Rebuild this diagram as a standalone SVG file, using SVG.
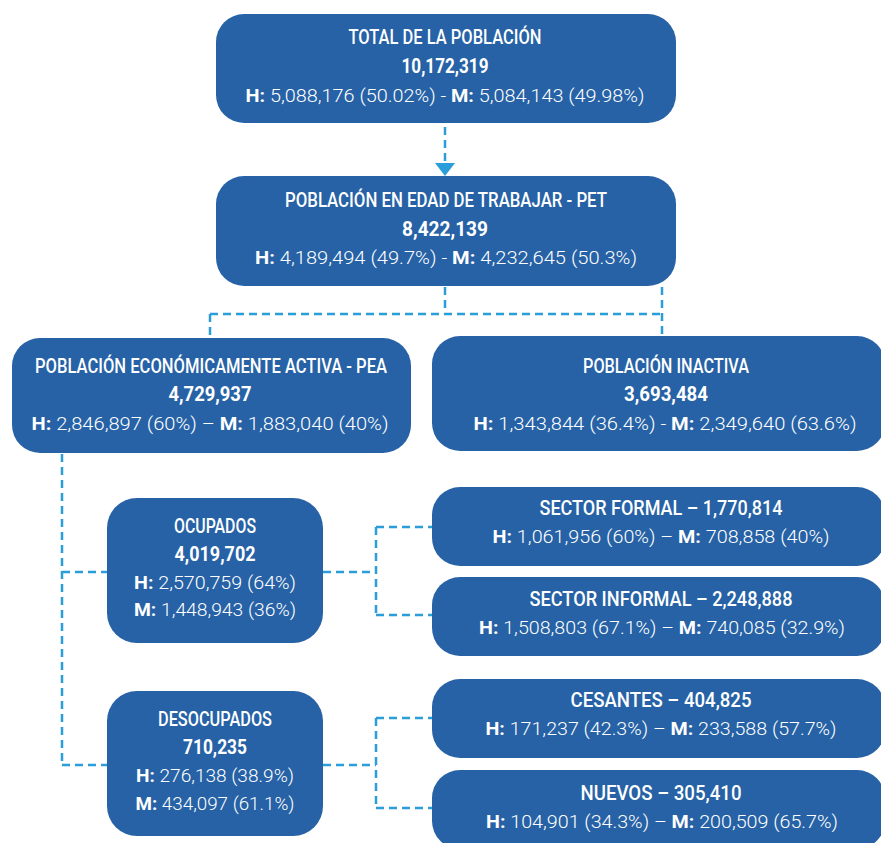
<svg xmlns="http://www.w3.org/2000/svg" width="881" height="843" viewBox="0 0 881 843">
<style>
.box{fill:#2662a5}
.t{font-family:Roboto,"Liberation Sans",sans-serif;fill:#ffffff;text-anchor:middle}
.ti{font-size:20px;font-weight:500}
.nu{font-size:20px;font-weight:700}
.de{font-size:19px;font-weight:300}
.b{font-weight:700}
.c{fill:none;stroke:#2b9dd8;stroke-width:2.5;stroke-dasharray:8 5}
</style>
<rect width="881" height="843" fill="#ffffff"/>
<g id="connectors">
<path class="c" d="M445 127 V164"/>
<polygon points="435,163 455,163 445,176" fill="#2b9dd8"/>
<path class="c" d="M445 287 V314 M210 314 H662 M210 314 V338 M662 287 V336"/>
<path class="c" d="M62 454 V765 M62 572 H108 M62 765 H108"/>
<path class="c" d="M323 572 H376 M376 527 V615 M376 527 H432 M376 615 H432"/>
<path class="c" d="M323 765 H376 M376 718 V808 M376 718 H432 M376 808 H432"/>
</g>
<g id="total">
<rect class="box" x="216" y="14" width="460" height="109" rx="28"/>
<text class="t ti" x="445" y="44" textLength="193" lengthAdjust="spacingAndGlyphs">TOTAL DE LA POBLACIÓN</text>
<text class="t nu" x="445" y="73" textLength="87" lengthAdjust="spacingAndGlyphs">10,172,319</text>
<text class="t de" x="445" y="102" textLength="399" lengthAdjust="spacingAndGlyphs"><tspan class="b">H:</tspan> 5,088,176  (50.02%)  -  <tspan class="b">M:</tspan> 5,084,143  (49.98%)</text>
</g>
<g id="pet">
<rect class="box" x="216" y="176" width="460" height="110" rx="28"/>
<text class="t ti" x="446" y="207" textLength="322" lengthAdjust="spacingAndGlyphs">POBLACIÓN EN EDAD DE TRABAJAR - PET</text>
<text class="t nu" x="445" y="236" textLength="86" lengthAdjust="spacingAndGlyphs">8,422,139</text>
<text class="t de" x="446" y="264" textLength="382" lengthAdjust="spacingAndGlyphs"><tspan class="b">H:</tspan> 4,189,494  (49.7%)  -  <tspan class="b">M:</tspan> 4,232,645  (50.3%)</text>
</g>
<g id="pea">
<rect class="box" x="12" y="338" width="399" height="115" rx="28"/>
<text class="t ti" x="211" y="373" textLength="352" lengthAdjust="spacingAndGlyphs">POBLACIÓN ECONÓMICAMENTE ACTIVA - PEA</text>
<text class="t nu" x="210" y="401" textLength="83" lengthAdjust="spacingAndGlyphs">4,729,937</text>
<text class="t de" x="210" y="430" textLength="357" lengthAdjust="spacingAndGlyphs"><tspan class="b">H:</tspan> 2,846,897  (60%)  –  <tspan class="b">M:</tspan> 1,883,040  (40%)</text>
</g>
<g id="inactiva">
<rect class="box" x="432" y="336" width="453" height="115" rx="28"/>
<text class="t ti" x="666" y="373" textLength="166" lengthAdjust="spacingAndGlyphs">POBLACIÓN INACTIVA</text>
<text class="t nu" x="666" y="401" textLength="84" lengthAdjust="spacingAndGlyphs">3,693,484</text>
<text class="t de" x="665" y="430" textLength="383" lengthAdjust="spacingAndGlyphs"><tspan class="b">H:</tspan> 1,343,844  (36.4%)  -  <tspan class="b">M:</tspan> 2,349,640  (63.6%)</text>
</g>
<g id="ocupados">
<rect class="box" x="107" y="498" width="216" height="145" rx="30"/>
<text class="t ti" x="215" y="533" textLength="82" lengthAdjust="spacingAndGlyphs">OCUPADOS</text>
<text class="t nu" x="215" y="561" textLength="81" lengthAdjust="spacingAndGlyphs">4,019,702</text>
<text class="t de" x="215" y="589" textLength="162" lengthAdjust="spacingAndGlyphs"><tspan class="b">H:</tspan> 2,570,759  (64%)</text>
<text class="t de" x="215" y="616" textLength="162" lengthAdjust="spacingAndGlyphs"><tspan class="b">M:</tspan> 1,448,943  (36%)</text>
</g>
<g id="formal">
<rect class="box" x="432" y="487" width="453" height="79" rx="28"/>
<text class="t ti" x="661" y="515" textLength="243" lengthAdjust="spacingAndGlyphs">SECTOR FORMAL  –  1,770,814</text>
<text class="t de" x="661" y="543" textLength="337" lengthAdjust="spacingAndGlyphs"><tspan class="b">H:</tspan> 1,061,956  (60%)  –  <tspan class="b">M:</tspan> 708,858  (40%)</text>
</g>
<g id="informal">
<rect class="box" x="432" y="577" width="453" height="79" rx="28"/>
<text class="t ti" x="661" y="606" textLength="263" lengthAdjust="spacingAndGlyphs">SECTOR INFORMAL  –  2,248,888</text>
<text class="t de" x="662" y="634" textLength="366" lengthAdjust="spacingAndGlyphs"><tspan class="b">H:</tspan> 1,508,803  (67.1%)  –  <tspan class="b">M:</tspan> 740,085  (32.9%)</text>
</g>
<g id="desocupados">
<rect class="box" x="107" y="691" width="216" height="145" rx="30"/>
<text class="t ti" x="215" y="726" textLength="114" lengthAdjust="spacingAndGlyphs">DESOCUPADOS</text>
<text class="t nu" x="215" y="754" textLength="64" lengthAdjust="spacingAndGlyphs">710,235</text>
<text class="t de" x="215" y="782" textLength="158" lengthAdjust="spacingAndGlyphs"><tspan class="b">H:</tspan> 276,138  (38.9%)</text>
<text class="t de" x="215" y="810" textLength="159" lengthAdjust="spacingAndGlyphs"><tspan class="b">M:</tspan> 434,097  (61.1%)</text>
</g>
<g id="cesantes">
<rect class="box" x="432" y="679" width="453" height="79" rx="28"/>
<text class="t ti" x="661" y="707" textLength="181" lengthAdjust="spacingAndGlyphs">CESANTES  –  404,825</text>
<text class="t de" x="661" y="735" textLength="351" lengthAdjust="spacingAndGlyphs"><tspan class="b">H:</tspan> 171,237  (42.3%)  –  <tspan class="b">M:</tspan> 233,588  (57.7%)</text>
</g>
<g id="nuevos">
<rect class="box" x="432" y="770" width="453" height="79" rx="28"/>
<text class="t ti" x="661" y="800" textLength="161" lengthAdjust="spacingAndGlyphs">NUEVOS  –  305,410</text>
<text class="t de" x="662" y="828" textLength="352" lengthAdjust="spacingAndGlyphs"><tspan class="b">H:</tspan> 104,901  (34.3%)  –  <tspan class="b">M:</tspan> 200,509  (65.7%)</text>
</g>
</svg>
